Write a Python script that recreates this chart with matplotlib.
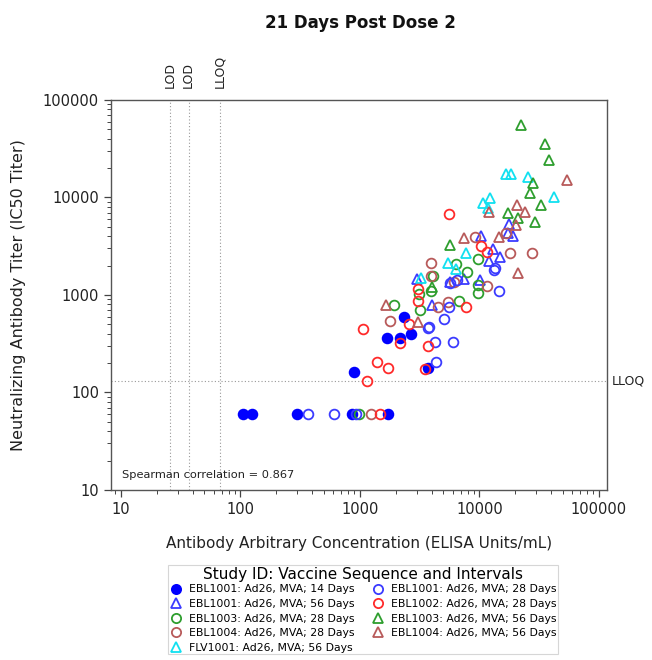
import matplotlib
matplotlib.use("Agg")
import matplotlib.pyplot as plt
import matplotlib.transforms as mtransforms
from matplotlib.ticker import LogLocator, FixedFormatter, FixedLocator

plt.rcParams['font.family'] = ['DejaVu Sans']

# --- data (ELISA EU/mL, IC50 titer) ---
ebl1001_14_x = [105, 125, 297, 857, 1715, 891, 1683, 2162, 2672, 2336, 3706]
ebl1001_14_y = [60, 60, 60, 60, 60, 161, 360, 360, 396, 593, 177]

ebl1001_28_x = [367, 606, 927, 3706, 4243, 6000, 4325, 5047, 3777, 5556, 13490, 14560, 6486, 13210, 5662]
ebl1001_28_y = [60, 60, 60, 457, 328, 328, 204, 566, 468, 752, 1900, 1100, 1430, 1810, 1330]

ebl1001_56_x = [3000, 4006, 5662, 7413, 10090, 10300, 12970, 14850, 12000, 17660, 17300, 19060]
ebl1001_56_y = [1460, 788, 1360, 1460, 1430, 4060, 2980, 2470, 2240, 5400, 4360, 4060]

ebl1002_28_x = [1470, 1059, 1145, 1388, 1715, 2162, 2572, 3706, 3500, 3057, 3057, 7708, 10300, 11560, 5556]
ebl1002_28_y = [60, 446, 130, 204, 177, 320, 502, 298, 173, 1150, 867, 752, 3200, 2770, 6840]

ebl1003_28_x = [982, 1926, 3176, 3118, 4083, 3927, 6358, 7852, 9705, 9705, 9705, 6730]
ebl1003_28_y = [60, 788, 700, 1020, 1570, 1100, 2090, 1730, 2350, 1270, 1050, 867]

ebl1003_56_x = [22240, 35320, 38190, 28050, 26490, 17300, 32700, 21000, 29130, 5662, 4006]
ebl1003_56_y = [55200, 35200, 24040, 13930, 10990, 7000, 8470, 6220, 5660, 3270, 1210]

ebl1004_28_x = [1237, 1782, 3927, 3927, 4497, 6120, 11560, 16670, 18000, 27480, 5445, 9162]
ebl1004_28_y = [60, 540, 2140, 1570, 752, 1360, 1240, 4360, 2710, 2710, 847, 3960]

ebl1004_56_x = [1651, 3057, 7413, 14560, 20600, 12000, 24040, 20200, 21000, 53950]
ebl1004_56_y = [788, 527, 3870, 3960, 8470, 7180, 7180, 5270, 1690, 14960]

flv1001_56_x = [3238, 5445, 6358, 7708, 10700, 12240, 11780, 16670, 18360, 25470, 42000]
flv1001_56_y = [1500, 2140, 1850, 2710, 8880, 9770, 7890, 17260, 17260, 16070, 10230]

lod_values = [26, 37]
lloq_x = 67
lloq_y = 130
spearman = 0.867

fig = plt.figure(figsize=(6.52, 6.60), dpi=100)
ax = fig.add_axes([0.170, 0.2576, 0.761, 0.5909])
ax.set_xscale('log')
ax.set_yscale('log')
ax.set_xlim(8.25, 1.17e5)
ax.set_ylim(10, 1e5)

# reference lines
for v in lod_values:
    ax.axvline(v, color='#999999', linestyle=(0, (1, 2)), linewidth=0.8, zorder=1)
ax.axvline(lloq_x, color='#999999', linestyle=(0, (1, 2)), linewidth=0.8, zorder=1)
ax.axhline(lloq_y, color='#999999', linestyle=(0, (1, 2)), linewidth=0.8, zorder=1)

trans_top = mtransforms.blended_transform_factory(ax.transData, ax.transAxes)
for v, lab in zip(lod_values + [lloq_x], ['LOD', 'LOD', 'LLOQ']):
    ax.text(v, 1.03, lab, transform=trans_top, rotation=90, ha='center', va='bottom',
            fontsize=9, color='#222222')
trans_right = mtransforms.blended_transform_factory(ax.transAxes, ax.transData)
ax.text(1.01, lloq_y, 'LLOQ', transform=trans_right, ha='left', va='center',
        fontsize=9, color='#222222', clip_on=False)

blue = '#0000ff'
blue_open = '#3b3bff'
red = '#ff2a2a'
green = '#2e9e2e'
brown = '#b85a5a'
cyan = '#11e0f0'
ms = 7
mew = 1.3

groups = [
    (ebl1001_14_x, ebl1001_14_y, 'o', blue, True, 'EBL1001: Ad26, MVA; 14 Days'),
    (ebl1001_56_x, ebl1001_56_y, '^', blue_open, False, 'EBL1001: Ad26, MVA; 56 Days'),
    (ebl1003_28_x, ebl1003_28_y, 'o', green, False, 'EBL1003: Ad26, MVA; 28 Days'),
    (ebl1004_28_x, ebl1004_28_y, 'o', brown, False, 'EBL1004: Ad26, MVA; 28 Days'),
    (flv1001_56_x, flv1001_56_y, '^', cyan, False, 'FLV1001: Ad26, MVA; 56 Days'),
    (ebl1001_28_x, ebl1001_28_y, 'o', blue_open, False, 'EBL1001: Ad26, MVA; 28 Days'),
    (ebl1002_28_x, ebl1002_28_y, 'o', red, False, 'EBL1002: Ad26, MVA; 28 Days'),
    (ebl1003_56_x, ebl1003_56_y, '^', green, False, 'EBL1003: Ad26, MVA; 56 Days'),
    (ebl1004_56_x, ebl1004_56_y, '^', brown, False, 'EBL1004: Ad26, MVA; 56 Days'),
]

handles = []
for xs, ys, mk, col, filled, lab in groups:
    h, = ax.plot(xs, ys, linestyle='none', marker=mk, markersize=ms,
                 markerfacecolor=col if filled else 'none', markeredgecolor=col,
                 markeredgewidth=mew, label=lab, zorder=3)
    handles.append(h)

ax.text(0.022, 0.026, 'Spearman correlation = %.3f' % spearman, transform=ax.transAxes,
        fontsize=8.2, color='#222222', ha='left', va='bottom')

# ticks
majors = [10, 100, 1000, 10000, 100000]
ax.xaxis.set_major_locator(FixedLocator(majors))
ax.xaxis.set_major_formatter(FixedFormatter([str(m) for m in majors]))
ax.yaxis.set_major_locator(FixedLocator(majors))
ax.yaxis.set_major_formatter(FixedFormatter([str(m) for m in majors]))
ax.xaxis.set_minor_locator(LogLocator(base=10, subs=range(2, 10)))
ax.yaxis.set_minor_locator(LogLocator(base=10, subs=range(2, 10)))
ax.xaxis.set_minor_formatter(FixedFormatter([]))
ax.yaxis.set_minor_formatter(FixedFormatter([]))
ax.tick_params(which='major', direction='out', length=5, width=0.9, labelsize=10.5,
               color='#444444', labelcolor='#222222')
ax.tick_params(which='minor', direction='out', length=3, width=0.7, color='#444444')
for s in ax.spines.values():
    s.set_color('#555555')
    s.set_linewidth(1.0)

ax.set_xlabel('Antibody Arbitrary Concentration (ELISA Units/mL)', fontsize=11,
              color='#222222', labelpad=14)
ax.set_ylabel('Neutralizing Antibody Titer (IC50 Titer)', fontsize=11.5,
              color='#222222', labelpad=12)

fig.text(0.553, 0.965, '21 Days Post Dose 2', ha='center', va='center',
         fontsize=12, fontweight='bold', color='#111111')

leg = fig.legend(handles=handles, ncol=2, loc='upper center', bbox_to_anchor=(0.557, 0.152),
                 title='Study ID: Vaccine Sequence and Intervals', title_fontsize=11,
                 fontsize=7.8, frameon=True, fancybox=False, edgecolor='#cccccc',
                 handletextpad=0.6, columnspacing=1.6, labelspacing=0.42,
                 borderpad=0.15, handlelength=1.2, markerscale=0.95)
leg.get_frame().set_linewidth(0.8)
leg._legend_box.sep = 2

fig.savefig('out.png', dpi=100)
